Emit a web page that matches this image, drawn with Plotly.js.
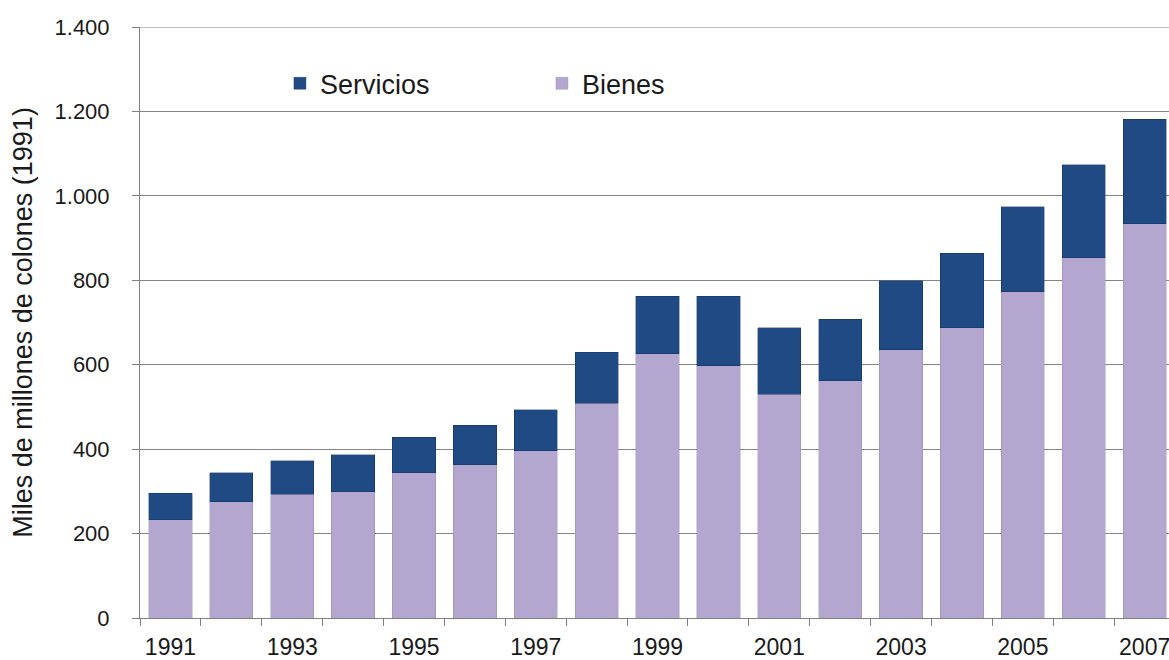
<!DOCTYPE html>
<html>
<head>
<meta charset="utf-8">
<script src="https://cdn.plot.ly/plotly-3.0.1.min.js"></script>
<style>
  html, body { margin: 0; padding: 0; background: #ffffff; overflow: hidden; }
  #chart { width: 1169px; height: 660px; }
</style>
</head>
<body>
<div id="chart"></div>
<script>
// Años de la serie
const years = [1991, 1992, 1993, 1994, 1995, 1996, 1997, 1998, 1999,
               2000, 2001, 2002, 2003, 2004, 2005, 2006, 2007];

// Miles de millones de colones (1991)
const bienes    = [233, 275, 293, 299, 344, 363, 396, 509, 626,
                   598, 530, 562, 636, 688, 773, 853, 934];
const servicios = [63, 69, 80, 88, 84, 94, 97, 120, 136,
                   164, 157, 146, 163, 176, 201, 221, 247];

// Años rotulados en el eje horizontal
const labelYears = [1991, 1993, 1995, 1997, 1999, 2001, 2003, 2005, 2007];
// Divisiones entre categorías
const boundaries = years.concat([2008]).map(y => y - 0.5);

const FONT = 'Liberation Sans, Arial, sans-serif';
const GRID = '#858585';

const traces = [
  {
    type: 'bar',
    name: 'Bienes',
    x: years,
    y: bienes,
    marker: { color: '#b4a7cf', line: { color: 'rgba(140,130,165,0.6)', width: 0.6 } },
    hoverinfo: 'x+y+name'
  },
  {
    type: 'bar',
    name: 'Servicios',
    x: years,
    y: servicios,
    marker: { color: '#1f4a84', line: { color: 'rgba(20,40,80,0.6)', width: 0.6 } },
    hoverinfo: 'x+y+name'
  }
];

const layout = {
  width: 1169,
  height: 660,
  margin: { l: 140, r: 0, t: 27, b: 42 },
  paper_bgcolor: '#ffffff',
  plot_bgcolor: '#ffffff',
  barmode: 'stack',
  bargap: 0.29,
  separators: ',.',
  font: { family: FONT, size: 22, color: '#1a1a1a' },
  showlegend: true,
  legend: {
    orientation: 'h',
    traceorder: 'reversed',
    x: 0.136,
    xanchor: 'left',
    y: 0.904,
    yanchor: 'middle',
    font: { family: FONT, size: 27, color: '#1a1a1a' },
    entrywidth: 217,
    entrywidthmode: 'pixels',
    bgcolor: 'rgba(0,0,0,0)'
  },
  // línea superior del área de trazado (1.400)
  shapes: [
    {
      type: 'line', xref: 'paper', yref: 'y',
      x0: 0, x1: 1, y0: 1400, y1: 1400,
      line: { color: GRID, width: 1 }
    }
  ],
  xaxis: {
    type: 'linear',
    range: [1990.5, 2007.4],
    tickmode: 'array',
    tickvals: labelYears,
    ticktext: labelYears.map(String),
    ticks: 'outside',
    ticklen: 7,
    tickcolor: 'rgba(0,0,0,0)',
    ticklabelstandoff: 1,
    ticklabeloverflow: 'allow',
    minor: {
      tickmode: 'array',
      tickvals: boundaries,
      ticks: 'outside',
      ticklen: 7,
      tickwidth: 1,
      tickcolor: '#808080',
      showgrid: false
    },
    showgrid: false,
    zeroline: false,
    showline: true,
    linecolor: '#808080',
    linewidth: 1,
    tickfont: { family: FONT, size: 23, color: '#1a1a1a' },
    fixedrange: true
  },
  yaxis: {
    range: [0, 1400],
    tickmode: 'linear',
    tick0: 0,
    dtick: 200,
    tickformat: ',d',
    ticks: 'outside',
    ticklen: 7,
    tickcolor: '#808080',
    ticklabelstandoff: 18,
    showgrid: true,
    gridcolor: GRID,
    gridwidth: 1,
    zeroline: false,
    showline: true,
    linecolor: '#808080',
    linewidth: 1,
    tickfont: { family: FONT, size: 22, color: '#1a1a1a' },
    title: {
      text: 'Miles de millones de colones (1991)',
      font: { family: FONT, size: 27, color: '#1a1a1a' },
      standoff: 14
    },
    fixedrange: true
  }
};

Plotly.newPlot('chart', traces, layout, { displayModeBar: false, staticPlot: true });
</script>
</body>
</html>
